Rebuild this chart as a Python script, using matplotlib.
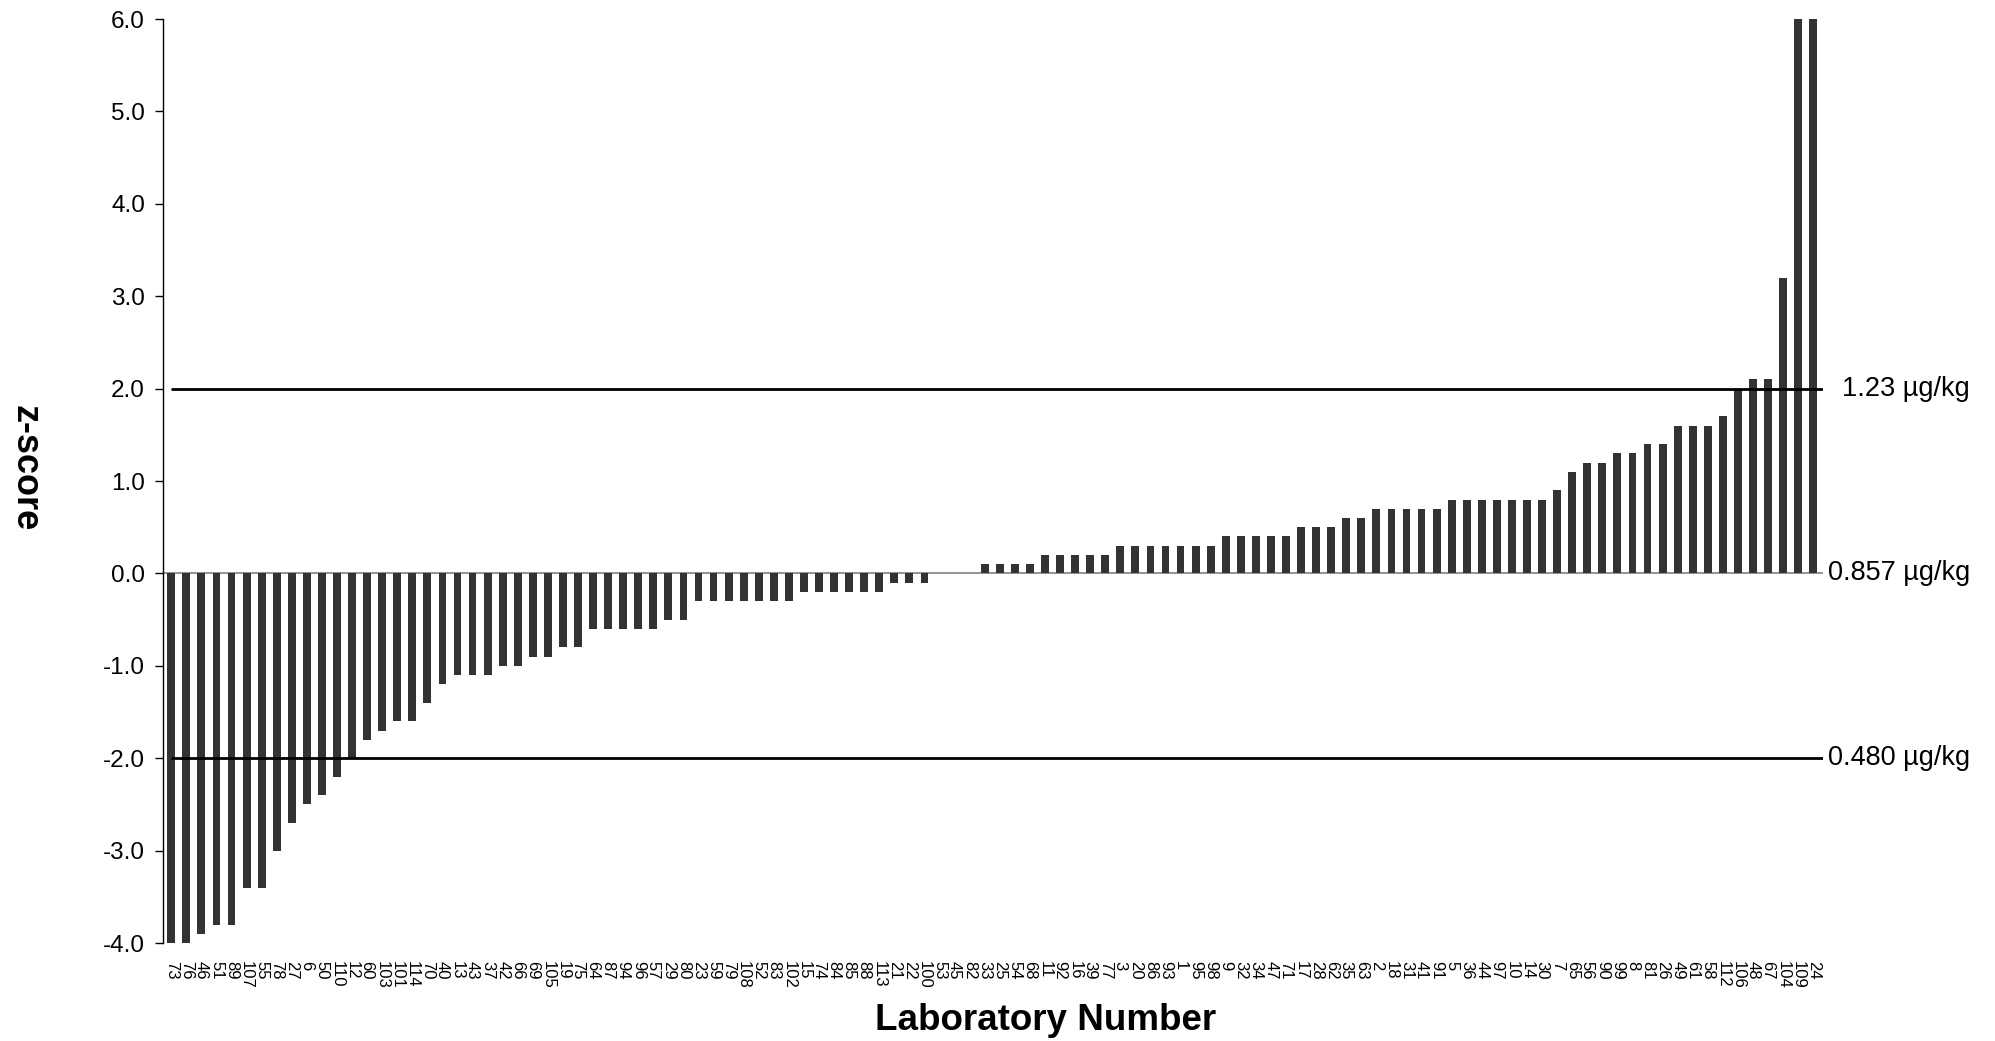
import matplotlib
matplotlib.use("Agg")
import matplotlib.pyplot as plt
import matplotlib.transforms as mtransforms

plt.rcParams['font.family'] = ['Liberation Sans', 'DejaVu Sans']
plt.rcParams['axes.unicode_minus'] = False

# laboratory numbers, in plotted order
labs = [73, 76, 46, 51, 89, 107, 55, 78, 27, 6, 50, 110, 12, 60, 103, 101, 114, 70, 40, 13,
        43, 37, 42, 66, 69, 105, 19, 75, 64, 87, 94, 96, 57, 29, 80, 23, 59, 79, 108, 52,
        83, 102, 15, 74, 84, 85, 88, 113, 21, 22, 100, 53, 45, 82, 33, 25, 54, 68, 11, 92,
        16, 39, 77, 3, 20, 86, 93, 1, 95, 98, 9, 32, 34, 47, 71, 17, 28, 62, 35, 63,
        2, 18, 31, 41, 91, 5, 36, 44, 97, 10, 14, 30, 7, 65, 56, 90, 99, 8, 81, 26,
        49, 61, 58, 112, 106, 48, 67, 104, 109, 24]

zscores = [-4.0, -4.0, -3.9, -3.8, -3.8, -3.4, -3.4, -3.0, -2.7, -2.5, -2.4, -2.2, -2.0, -1.8, -1.7, -1.6, -1.6, -1.4, -1.2, -1.1,
           -1.1, -1.1, -1.0, -1.0, -0.9, -0.9, -0.8, -0.8, -0.6, -0.6, -0.6, -0.6, -0.6, -0.5, -0.5, -0.3, -0.3, -0.3, -0.3, -0.3,
           -0.3, -0.3, -0.2, -0.2, -0.2, -0.2, -0.2, -0.2, -0.1, -0.1, -0.1, 0.0, 0.0, 0.0, 0.1, 0.1, 0.1, 0.1, 0.2, 0.2,
           0.2, 0.2, 0.2, 0.3, 0.3, 0.3, 0.3, 0.3, 0.3, 0.3, 0.4, 0.4, 0.4, 0.4, 0.4, 0.5, 0.5, 0.5, 0.6, 0.6,
           0.7, 0.7, 0.7, 0.7, 0.7, 0.8, 0.8, 0.8, 0.8, 0.8, 0.8, 0.8, 0.9, 1.1, 1.2, 1.2, 1.3, 1.3, 1.4, 1.4,
           1.6, 1.6, 1.6, 1.7, 2.0, 2.1, 2.1, 3.2, 6.0, 6.0]

# z-score limits and the concentrations they correspond to
ref_z = [2, 0, -2]
ref_labels = ['1.23 µg/kg', '0.857 µg/kg', '0.480 µg/kg']

fig = plt.figure(figsize=(19.95, 10.41), dpi=100)
ax = fig.add_axes([0.0817, 0.0941, 0.8321, 0.8876])

x = list(range(len(labs)))
ax.bar(x, zscores, width=0.52, color='#333333', zorder=2)

xmax = len(labs) - 1 + 0.65
ax.set_xlim(-0.55, xmax)
ax.set_ylim(-4, 6)

ax.axhline(0, color='#808080', lw=1.2, zorder=1)
for z in ref_z:
    if z != 0:
        ax.hlines(z, 0, xmax, color='black', lw=2.0, zorder=3)

trans = mtransforms.blended_transform_factory(ax.transAxes, ax.transData)
for z, lab in zip(ref_z, ref_labels):
    ax.text(1.0886, z, lab, transform=trans, ha='right', va='center', fontsize=19.5)

ax.set_yticks(range(-4, 7))
ax.set_yticklabels([f'{v:.1f}' for v in range(-4, 7)])
ax.set_xticks(x)
ax.set_xticklabels([str(l) for l in labs], rotation=-90)

ax.tick_params(axis='y', direction='out', length=6, width=1, labelsize=17.5, pad=7)
ax.tick_params(axis='x', length=0, labelsize=12, pad=13)

for s in ['top', 'right', 'bottom']:
    ax.spines[s].set_visible(False)
ax.spines['left'].set_linewidth(1)

fig.text(25 / 1995, 1 - 468 / 1041, 'z-score', rotation=-90, ha='center', va='center',
         fontsize=26, fontweight='bold')
fig.text(1046 / 1995, 1 - 1020 / 1041, 'Laboratory Number', ha='center', va='center',
         fontsize=26.5, fontweight='bold')

fig.savefig('out.png', dpi=100)
